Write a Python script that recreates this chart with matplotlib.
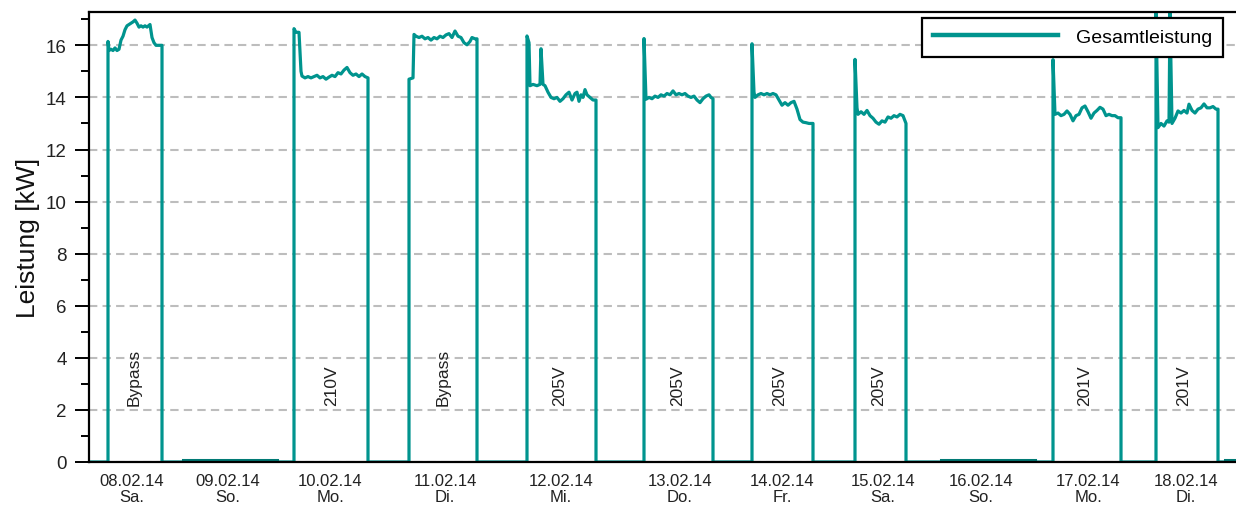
import numpy as np
import matplotlib
matplotlib.use("Agg")
import matplotlib.pyplot as plt

plt.rcParams['font.family'] = ['Liberation Sans', 'DejaVu Sans']

# time axis is compressed (working hours only), so x is a running index read off the chart
# one run of operation per working day: x positions and power in kW
sa08_x = [19, 20, 22, 24, 26, 28, 30, 32, 34, 36, 38, 40, 42, 44, 46, 48, 50, 52, 54, 56, 58, 61, 63, 65, 67, 70, 73]
sa08_kw = [16.15, 15.8, 15.85, 15.8, 15.9, 15.8, 15.85, 16.2, 16.35, 16.6, 16.75, 16.8, 16.85, 16.9, 16.97, 16.85,
           16.7, 16.75, 16.7, 16.75, 16.7, 16.8, 16.3, 16.1, 16.0, 16.0, 16.0]
mo10_x = [205, 207, 210, 212, 213, 216, 219, 222, 225, 228, 231, 234, 237, 240, 243, 246, 249, 252, 255, 258,
          261, 264, 267, 270, 273, 276, 279]
mo10_kw = [16.64, 16.5, 16.5, 15.0, 14.82, 14.75, 14.8, 14.75, 14.8, 14.85, 14.75, 14.8, 14.7, 14.78, 14.85, 14.8,
           14.95, 14.9, 15.05, 15.15, 14.95, 14.85, 14.9, 14.8, 14.9, 14.8, 14.75]
di11_x = [320, 324, 325, 327, 330, 333, 336, 339, 342, 345, 348, 351, 354, 357, 360, 363, 366, 369, 372, 375,
          378, 381, 383, 386, 388]
di11_kw = [14.7, 14.75, 16.42, 16.35, 16.3, 16.35, 16.25, 16.3, 16.2, 16.3, 16.25, 16.35, 16.3, 16.4, 16.45, 16.3,
           16.55, 16.35, 16.3, 16.1, 16.02, 16.15, 16.3, 16.25, 16.25]
mi12_x = [438, 440, 441, 444, 448, 451, 452, 454, 456, 459, 462, 465, 468, 471, 474, 477, 480, 483, 486, 488,
          490, 492, 494, 496, 498, 501, 504, 507]
mi12_kw = [16.36, 16.1, 14.45, 14.5, 14.45, 14.5, 15.87, 14.5, 14.45, 14.2, 14.0, 13.95, 14.0, 13.85, 13.95, 14.1,
           14.2, 13.9, 14.15, 14.2, 13.85, 14.1, 14.0, 14.3, 14.1, 14.0, 13.9, 13.9]
do13_x = [555, 557, 560, 563, 566, 569, 572, 575, 578, 581, 584, 587, 590, 593, 596, 599, 602, 605, 608, 611,
          614, 617, 620, 622, 624]
do13_kw = [16.26, 13.93, 14.0, 13.95, 14.05, 14.0, 14.1, 14.05, 14.15, 14.1, 14.25, 14.1, 14.15, 14.1, 14.15,
           14.05, 14.0, 14.05, 13.9, 13.8, 13.95, 14.05, 14.1, 14.0, 13.95]
fr14_x = [663, 665, 666, 669, 672, 675, 678, 681, 684, 687, 690, 693, 696, 699, 702, 705, 708, 711, 714, 717,
          720, 724]
fr14_kw = [16.06, 14.2, 14.0, 14.1, 14.15, 14.1, 14.15, 14.1, 14.15, 14.1, 13.9, 13.7, 13.8, 13.7, 13.8, 13.85,
           13.55, 13.15, 13.05, 13.03, 13.0, 13.0]
sa15_x = [766, 768, 769, 772, 775, 778, 781, 784, 787, 790, 793, 796, 799, 802, 805, 808, 811, 814, 816, 817]
sa15_kw = [15.46, 13.6, 13.35, 13.45, 13.35, 13.5, 13.3, 13.2, 13.05, 12.97, 13.1, 13.05, 13.25, 13.2, 13.3,
           13.25, 13.35, 13.3, 13.1, 13.0]
mo17_x = [964, 966, 969, 972, 975, 978, 981, 984, 987, 990, 993, 996, 999, 1002, 1005, 1008, 1011, 1014, 1017,
          1020, 1023, 1026, 1029, 1032]
mo17_kw = [15.45, 13.35, 13.4, 13.3, 13.35, 13.48, 13.35, 13.1, 13.3, 13.35, 13.6, 13.67, 13.45, 13.2, 13.4,
           13.5, 13.62, 13.55, 13.3, 13.35, 13.3, 13.3, 13.22, 13.22]
di18_x = [1067, 1069, 1072, 1075, 1078, 1080, 1081, 1083, 1086, 1089, 1092, 1095, 1098, 1100, 1103, 1106, 1109,
          1112, 1115, 1118, 1121, 1124, 1127, 1129]
di18_kw = [17.3, 12.84, 13.0, 12.9, 13.1, 13.05, 17.3, 13.0, 13.2, 13.48, 13.4, 13.5, 13.4, 13.74, 13.5, 13.4,
           13.55, 13.6, 13.75, 13.6, 13.6, 13.65, 13.55, 13.55]

x_end = 1147

# weekend / idle stretches logged slightly above zero
idle_start = [94, 852, 1136]
idle_end = [188, 946, 1147]
idle_kw = 0.06

tick_pos = [43, 139, 241, 356, 472, 591, 693, 794, 892, 999, 1097]
tick_dates = ['08.02.14', '09.02.14', '10.02.14', '11.02.14', '12.02.14', '13.02.14',
              '14.02.14', '15.02.14', '16.02.14', '17.02.14', '18.02.14']
tick_days = ['Sa.', 'So.', 'Mo.', 'Di.', 'Mi.', 'Do.', 'Fr.', 'Sa.', 'So.', 'Mo.', 'Di.']

note_pos = [45, 243, 354, 471, 589, 691, 790, 996, 1095]
note_text = ['Bypass', '210V', 'Bypass', '205V', '205V', '205V', '205V', '201V', '201V']

runs = [(sa08_x, sa08_kw), (mo10_x, mo10_kw), (di11_x, di11_kw), (mi12_x, mi12_kw), (do13_x, do13_kw),
        (fr14_x, fr14_kw), (sa15_x, sa15_kw), (mo17_x, mo17_kw), (di18_x, di18_kw)]

# stitch the runs together with zero power in between
xs, ys = [0], [0]
for rx, ry in runs:
    xs += [rx[0]] + rx + [rx[-1]]
    ys += [0] + ry + [0]
xs.append(x_end)
ys.append(0)

teal = '#00948e'

fig = plt.figure(figsize=(12.36, 5.06), dpi=100)
ax = fig.add_axes([89 / 1236, 43 / 506, 1147 / 1236, 450 / 506])

ax.plot(xs, ys, color=teal, lw=2.3, label='Gesamtleistung', zorder=2)
for a, b in zip(idle_start, idle_end):
    ax.plot([a, b], [idle_kw, idle_kw], color='#007a75', lw=2.2, zorder=2)

for p, t in zip(note_pos, note_text):
    ax.text(p, 2.2, t, rotation=90, ha='center', va='bottom', fontsize=12.5, color='#222222')

ax.set_xlim(0, x_end)
ax.set_ylim(0, 17.28)
ax.set_yticks(np.arange(0, 17, 2))
ax.set_yticks(np.arange(1, 18, 2), minor=True)
ax.set_xticks(tick_pos)
ax.set_xticklabels([d + '\n' + w for d, w in zip(tick_dates, tick_days)],
                   fontsize=12, color='#222222', linespacing=1.1)
ax.tick_params(axis='x', length=0, pad=8)
ax.tick_params(axis='y', which='major', length=10, width=1.4, labelsize=13.5, labelcolor='#222222', pad=6)
ax.tick_params(axis='y', which='minor', length=6, width=1.4)

ax.grid(axis='y', color='#bdbdbd', linestyle=(0, (4, 2.5)), lw=1.5, zorder=0)
ax.set_axisbelow(True)
ax.spines['right'].set_visible(False)
for s in ['left', 'top', 'bottom']:
    ax.spines[s].set_linewidth(1.6)
    ax.spines[s].set_zorder(3)

ax.set_ylabel('Leistung [kW]', fontsize=19, color='#111111', labelpad=4)

leg = ax.legend(loc='upper right', bbox_to_anchor=(1134 / 1147, 0.987), fontsize=14,
                frameon=True, fancybox=False, handlelength=6.4, handletextpad=0.95,
                borderpad=0.55, borderaxespad=0)
leg.get_frame().set_edgecolor('black')
leg.get_frame().set_linewidth(1.6)
leg.get_frame().set_alpha(1)
leg.get_lines()[0].set_linewidth(3.2)
leg.set_zorder(5)

fig.savefig('out.png', dpi=100)
